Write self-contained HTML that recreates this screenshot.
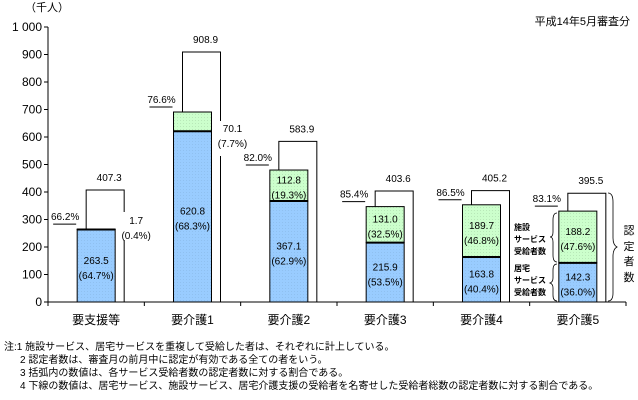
<!DOCTYPE html>
<html><head><meta charset="utf-8">
<style>
body{margin:0;background:#fff;}
svg{display:block;font-family:"Liberation Sans","Noto Sans CJK JP",sans-serif;}
</style></head>
<body>
<svg id="c" width="638" height="400" viewBox="0 0 638 400">
<defs>
<pattern id="pb" width="3" height="3" patternUnits="userSpaceOnUse"><rect width="3" height="3" fill="#99ccff"/><rect width="1" height="1" fill="#8fc0f0"/></pattern>
<pattern id="pg" width="3" height="3" patternUnits="userSpaceOnUse"><rect width="3" height="3" fill="#ccffcc"/><rect width="1" height="1" fill="#b8e8b8"/></pattern>
</defs>
<text x="25" y="11" font-size="11">（千人）</text>
<text x="630" y="25" font-size="11" text-anchor="end">平成14年5月審査分</text>
<g id="ax"></g>
<g id="bars"></g>
<g font-size="8" font-weight="bold">
<text x="514" y="230">施設</text>
<text x="514" y="242">サービス</text>
<text x="514" y="254">受給者数</text>
<text x="514" y="271">居宅</text>
<text x="514" y="283">サービス</text>
<text x="514" y="295">受給者数</text>
<path d="M557,213 Q553,213 553,220 L553,232 Q553,237 550,237 Q553,237 553,242 L553,255 Q553,262 557,262" fill="none" stroke="#000" stroke-width="0.8"/>
<path d="M557,264 Q553,264 553,270 L553,278 Q553,282 550,283 Q553,284 553,288 L553,295 Q553,301 557,301" fill="none" stroke="#000" stroke-width="0.8"/>
<path d="M608,193 Q613,193 613,202 L613,238 Q613,245 617,247 Q613,249 613,256 L613,293 Q613,301 608,301" fill="none" stroke="#000" stroke-width="0.8"/>
<text x="629" y="234" font-size="11" font-weight="normal" text-anchor="middle">認</text>
<text x="629" y="250" font-size="11" font-weight="normal" text-anchor="middle">定</text>
<text x="629" y="265" font-size="11" font-weight="normal" text-anchor="middle">者</text>
<text x="629" y="281" font-size="11" font-weight="normal" text-anchor="middle">数</text>
</g>
<g font-size="10">
<text x="4" y="350">注:1  施設サービス、居宅サービスを重複して受給した者は、それぞれに計上している。</text>
<text x="20" y="363">2  認定者数は、審査月の前月中に認定が有効である全ての者をいう。</text>
<text x="20" y="376">3  括弧内の数値は、各サービス受給者数の認定者数に対する割合である。</text>
<text x="20" y="389">4 下線の数値は、居宅サービス、施設サービス、居宅介護支援の受給者を名寄せした受給者総数の認定者数に対する割合である。</text>
</g>
</svg>
<script>
const categories=["要支援等","要介護1","要介護2","要介護3","要介護4","要介護5"];
const homeVals=[263.5,620.8,367.1,215.9,163.8,142.3];
const facVals=[1.7,70.1,112.8,131.0,189.7,188.2];
const totalVals=[407.3,908.9,583.9,403.6,405.2,395.5];
const homePct=["64.7","68.3","62.9","53.5","40.4","36.0"];
const facPct=["0.4","7.7","19.3","32.5","46.8","47.6"];
const userPct=["66.2","76.6","82.0","85.4","86.5","83.1"];
const yTicks=[0,100,200,300,400,500,600,700,800,900,1000];
const yTickLabels=["0","100","200","300","400","500","600","700","800","900","1 000"];

const NS="http://www.w3.org/2000/svg";
const X0=48,X1=626,Y0=302,Y1=27;
const cw=(X1-X0)/categories.length;
const y=v=>Y0-(v/1000)*(Y0-Y1);
const cx=i=>X0+cw*(i+0.5);
function mk(tag,attrs,parent,txt){const e=document.createElementNS(NS,tag);for(const k in attrs)e.setAttribute(k,attrs[k]);if(txt!=null)e.textContent=txt;parent.appendChild(e);return e;}
const ax=document.getElementById('ax'),bars=document.getElementById('bars');
let e=mk('line',{x1:X0,y1:Y1,x2:X0,y2:Y0,stroke:'#000'},ax);


e=mk('line',{x1:X0,y1:Y0,x2:X1,y2:Y0,stroke:'#000'},ax);


yTicks.forEach((t,i)=>{
  mk('line',{x1:X0-4,y1:y(t),x2:X0,y2:y(t),stroke:'#000'},ax);
  const l=mk('text',{x:X0-6,y:y(t)+4,'font-size':12,'text-anchor':'end'},ax,yTickLabels[i]);
  
  
});
for(let i=0;i<=categories.length;i++) mk('line',{x1:X0+cw*i,y1:Y0,x2:X0+cw*i,y2:Y0+4,stroke:'#000'},ax);
categories.forEach((c,i)=>{
  const l=mk('text',{x:cx(i),y:324,'font-size':12,'text-anchor':'middle'},ax,c);
  
  
  const g=mk('g',{},bars);
  
  
  const bx=cx(i)-19,bw=38;
  const hTop=y(homeVals[i]),fTop=y(homeVals[i]+facVals[i]);
  const hb=mk('rect',{x:bx,y:hTop,width:bw,height:Y0-hTop,fill:'url(#pb)',stroke:'#000','stroke-width':1},g);
  
  
  const fb=mk('rect',{x:bx,y:fTop,width:bw,height:hTop-fTop,fill:'url(#pg)',stroke:'#000','stroke-width':1},g);
  
  
  mk('line',{x1:bx,y1:hTop,x2:bx+bw,y2:hTop,stroke:'#000','stroke-width':2},g);
  const lx=bx+9,rx=bx+bw+9,tt=y(totalVals[i]);
  let d;
  if(i<2){
    d=`M${lx},${fTop} V${tt} H${rx} V${i===0?Y0-90:fTop+9} M${rx},${i===0?Y0-62:fTop+44} V${Y0}`;}
  else d=`M${lx},${fTop} V${tt} H${rx} V${Y0}`;
  const br=mk('path',{d:d,fill:'none',stroke:'#000','stroke-width':1},g);
  
  
  const tl=mk('text',{x:(lx+rx)/2+4,y:tt-9,'font-size':10,'text-anchor':'middle'},g,totalVals[i].toFixed(1));
  
  
  const ul=mk('text',{x:bx-12,y:fTop-9,'font-size':10,'text-anchor':'middle'},g,userPct[i]+"%");
  
  
  mk('line',{x1:bx-24,y1:fTop-5,x2:bx-1,y2:fTop-5,stroke:'#000'},g);
  const hm=(hTop+Y0)/2;
  const h1=mk('text',{x:cx(i),y:hm-2,'font-size':10,'text-anchor':'middle'},g,homeVals[i].toFixed(1));
  
  
  mk('text',{x:cx(i),y:hm+13,'font-size':10,'text-anchor':'middle'},g,"("+homePct[i]+"%)");
  if(i<2){
    const fx=rx+12,fy=i===0?Y0-78:fTop+20;
    const f1=mk('text',{x:fx,y:fy,'font-size':10,'text-anchor':'middle'},g,facVals[i].toFixed(1));
    
    
    mk('text',{x:fx,y:fy+15,'font-size':10,'text-anchor':'middle'},g,"("+facPct[i]+"%)");
  } else {
    const fm=(fTop+hTop)/2;
    const f1=mk('text',{x:cx(i),y:fm-2,'font-size':10,'text-anchor':'middle'},g,facVals[i].toFixed(1));
    
    
    mk('text',{x:cx(i),y:fm+13,'font-size':10,'text-anchor':'middle'},g,"("+facPct[i]+"%)");
  }
});
</script>
</body></html>
